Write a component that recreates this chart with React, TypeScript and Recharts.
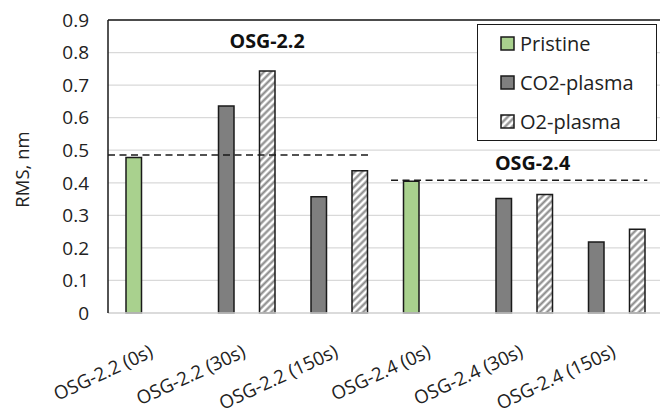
import React from "react";
import {
  BarChart,
  Bar,
  XAxis,
  YAxis,
  CartesianGrid,
  ReferenceLine,
  ReferenceDot,
  Legend,
} from "recharts";

const categories = [
  "OSG-2.2 (0s)",
  "OSG-2.2 (30s)",
  "OSG-2.2 (150s)",
  "OSG-2.4 (0s)",
  "OSG-2.4 (30s)",
  "OSG-2.4 (150s)",
];
const pristine = [0.478, null, null, 0.405, null, null];
const co2Plasma = [null, 0.636, 0.357, null, 0.352, 0.218];
const o2Plasma = [null, 0.743, 0.437, null, 0.364, 0.257];
const yTicks = [0, 0.1, 0.2, 0.3, 0.4, 0.5, 0.6, 0.7, 0.8, 0.9];

// dashed reference levels for each sample (value + extent in category units)
const refNames = ["OSG-2.2", "OSG-2.4"];
const refValues = [0.485, 0.408];
const refFrom = [0, 3.06];
const refTo = [2.82, 5.83];
// where the bold sample names sit (category units / value units)
const refLabelX = [1.72, 4.59];
const refLabelY = [0.814, 0.439];

const GREEN = "#A9D18E";
const GREY = "#7F7F7F";
const EDGE = "#1a1a1a";
const FONT = '"Open Sans", sans-serif';

const data = categories.map((name, i) => ({
  name,
  pos: i + 0.5,
  pristine: pristine[i],
  co2: co2Plasma[i],
  o2: o2Plasma[i],
}));

const legendItems = [
  { label: "Pristine", fill: GREEN },
  { label: "CO2-plasma", fill: GREY },
  { label: "O2-plasma", fill: "url(#hatchLegend)" },
];

const XTick = ({ x, y, payload }: any) => {
  const label = categories[Math.floor(payload.value)];
  const ty = y + 43;
  return (
    <text
      x={x}
      y={ty}
      transform={`rotate(-25, ${x}, ${ty})`}
      textAnchor="end"
      fontSize={18.8}
      fontFamily={FONT}
      fill="#222"
    >
      {label}
    </text>
  );
};

const LegendBox = () => (
  <div
    style={{
      width: 180,
      height: 117,
      boxSizing: "border-box",
      border: `1.5px solid ${EDGE}`,
      background: "#fff",
      position: "relative",
      fontFamily: FONT,
    }}
  >
    {legendItems.map((it, i) => (
      <div
        key={it.label}
        style={{
          position: "absolute",
          left: 22,
          top: 5 + i * 39,
          height: 26,
          display: "flex",
          alignItems: "center",
          whiteSpace: "nowrap",
        }}
      >
        <svg width={15} height={15} style={{ display: "block" }}>
          <defs>
            <pattern
              id="hatchLegend"
              patternUnits="userSpaceOnUse"
              width={5}
              height={5}
              patternTransform="rotate(45)"
            >
              <rect width={5} height={5} fill="#fff" />
              <line x1={2.5} y1={0} x2={2.5} y2={5} stroke="#8a8a8a" strokeWidth={2.2} />
            </pattern>
          </defs>
          <rect x={1} y={1} width={13} height={13} fill={it.fill} stroke={EDGE} strokeWidth={1.5} />
        </svg>
        <span style={{ marginLeft: 5, fontSize: 20, color: "#222" }}>{it.label}</span>
      </div>
    ))}
  </div>
);

const YLabel = ({ viewBox }: any) => {
  const cx = viewBox.x + 21;
  const cy = viewBox.y + viewBox.height / 2 + 3;
  return (
    <text
      x={cx}
      y={cy}
      transform={`rotate(-90, ${cx}, ${cy})`}
      textAnchor="middle"
      dominantBaseline="central"
      fontSize={18.5}
      fontFamily={FONT}
      fill="#222"
    >
      RMS, nm
    </text>
  );
};

const RefName = ({ text }: { text: string }) => (props: any) => {
  const { viewBox } = props;
  return (
    <text
      x={viewBox.x}
      y={viewBox.y}
      textAnchor="middle"
      fontSize={19.7}
      fontWeight="bold"
      fontFamily={FONT}
      fill="#111"
    >
      {text}
    </text>
  );
};

export default function App() {
  return (
    <div
      style={{
        position: "absolute",
        left: 0,
        top: 0,
        width: 660,
        height: 416,
        overflow: "hidden",
        background: "#fff",
        fontFamily: FONT,
      }}
    >
      <BarChart
        width={665}
        height={416}
        data={data}
        margin={{ top: 20, right: 2, bottom: 0, left: 0 }}
        barSize={15.5}
        barGap={5}
      >
        <defs>
          <pattern
            id="hatch"
            patternUnits="userSpaceOnUse"
            width={5}
            height={5}
            patternTransform="rotate(45)"
          >
            <rect width={5} height={5} fill="#fff" />
            <line x1={2.5} y1={0} x2={2.5} y2={5} stroke="#8a8a8a" strokeWidth={2.2} />
          </pattern>
        </defs>
        <CartesianGrid vertical={false} stroke="#D9D9D9" strokeWidth={1.3} />
        <XAxis
          type="number"
          dataKey="pos"
          domain={[0, 6]}
          ticks={[0.5, 1.5, 2.5, 3.5, 4.5, 5.5]}
          interval={0}
          allowDataOverflow
          height={103}
          tickLine={false}
          tickSize={0}
          tickMargin={0}
          axisLine={{ stroke: "#D9D9D9", strokeWidth: 1.5 }}
          tick={<XTick />}
        />
        <YAxis
          domain={[0, 0.9]}
          ticks={yTicks}
          interval={0}
          width={108}
          tickLine={false}
          tickSize={0}
          tickMargin={19}
          axisLine={{ stroke: EDGE, strokeWidth: 1.5 }}
          tick={{ fill: "#222", fontSize: 19, fontFamily: FONT }}
          label={{ content: <YLabel /> }}
        />
        <ReferenceLine y={0.9} stroke={EDGE} strokeWidth={1.5} />

        {/* empty slot so the Pristine/CO2 column sits at the category centre */}
        <Bar dataKey="slot" legendType="none" isAnimationActive={false} />
        <Bar
          dataKey="pristine"
          name="Pristine"
          stackId="a"
          fill={GREEN}
          stroke={EDGE}
          strokeWidth={1.5}
          isAnimationActive={false}
        />
        <Bar
          dataKey="co2"
          name="CO2-plasma"
          stackId="a"
          fill={GREY}
          stroke={EDGE}
          strokeWidth={1.5}
          isAnimationActive={false}
        />
        <Bar
          dataKey="o2"
          name="O2-plasma"
          fill="url(#hatch)"
          stroke={EDGE}
          strokeWidth={1.5}
          isAnimationActive={false}
        />

        {refValues.map((v, i) => (
          <ReferenceLine
            key={refNames[i]}
            segment={[
              { x: refFrom[i], y: v },
              { x: refTo[i], y: v },
            ]}
            stroke={EDGE}
            strokeWidth={1.5}
            strokeDasharray="7 4.5"
            ifOverflow="visible"
          />
        ))}
        {refNames.map((n, i) => (
          <ReferenceDot
            key={n}
            x={refLabelX[i]}
            y={refLabelY[i]}
            r={0}
            fill="none"
            stroke="none"
            label={{ content: RefName({ text: n }) }}
          />
        ))}

        <Legend
          layout="vertical"
          align="center"
          verticalAlign="middle"
          content={<LegendBox />}
          wrapperStyle={{ position: "absolute", left: 477, top: 24, width: 180, height: 117 }}
        />
      </BarChart>
    </div>
  );
}
